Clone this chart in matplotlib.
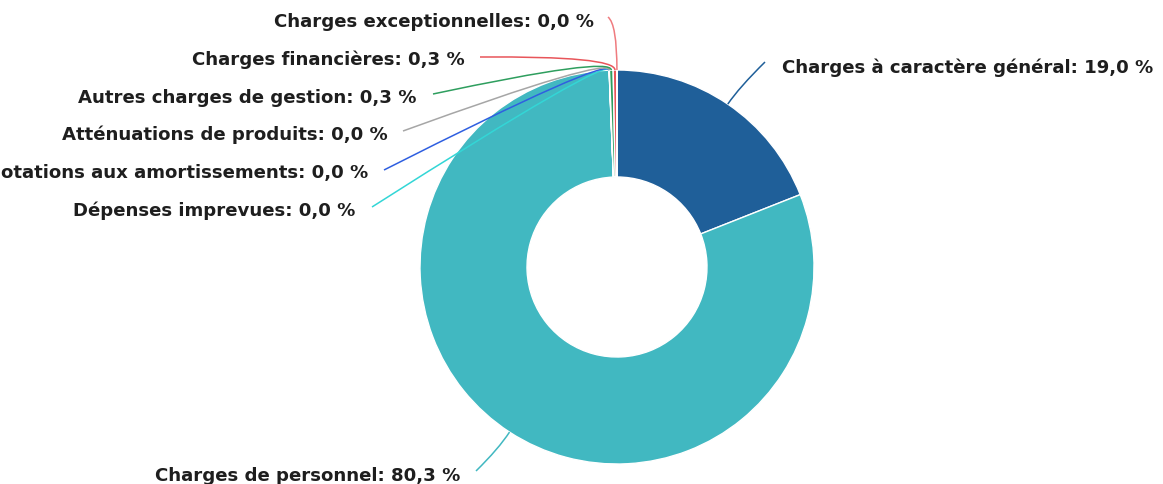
import matplotlib
matplotlib.use("Agg")
import matplotlib.pyplot as plt
from matplotlib.path import Path
from matplotlib.patches import PathPatch, Wedge
import numpy as np

categories = ["Charges à caractère général", "Charges de personnel", "Dépenses imprevues",
              "Dotations aux amortissements", "Atténuations de produits",
              "Autres charges de gestion", "Charges financières", "Charges exceptionnelles"]
values = [19.0, 80.3, 0.01, 0.01, 0.01, 0.3, 0.3, 0.01]
labels_pct = ["19,0", "80,3", "0,0", "0,0", "0,0", "0,3", "0,3", "0,0"]
colors = ["#1f5f99", "#41b8c1", "#33d6d6", "#2f5fe0", "#a6a6a6", "#2e9e5e", "#e8555a", "#ef7b7f"]

W, H = 1163, 485
fig = plt.figure(figsize=(W / 100, H / 100), dpi=100)
ax = fig.add_axes([0, 0, 1, 1])
ax.set_xlim(0, W)
ax.set_ylim(H, 0)
ax.axis("off")

cx, cy, R = 617, 268, 197
rin = 90

total = sum(values)
start = 0.0
mids = []
for v, c in zip(values, colors):
    frac = v / total
    a0 = start * 360
    a1 = (start + frac) * 360
    w = Wedge((cx, cy), R, -90 + a0, -90 + a1, width=R - rin, facecolor=c,
              edgecolor="white", linewidth=1)
    ax.add_patch(w)
    mids.append((a0 + a1) / 2)
    start += frac

label_pos = [(782, 68, "left"), (460, 476, "right"), (355, 211, "right"), (368, 173, "right"),
             (388, 135, "right"), (417, 98, "right"), (465, 60, "right"), (594, 22, "right")]
line_end = [(765, 63), (476, 472), (372, 208), (384, 171), (403, 132), (433, 95), (480, 58), (608, 18)]
elbows = [20, 20, 14, 14, 14, 14, 14, 46]

for i, (cat, pct) in enumerate(zip(categories, labels_pct)):
    ang = np.deg2rad(mids[i])
    dx, dy = np.sin(ang), -np.cos(ang)
    p0 = (cx + R * dx, cy + R * dy)
    el = elbows[i]
    p1 = (cx + (R + el) * dx, cy + (R + el) * dy)
    p2 = line_end[i]
    path = Path([p0, p1, p2], [Path.MOVETO, Path.CURVE3, Path.CURVE3])
    ax.add_patch(PathPatch(path, facecolor="none", edgecolor=colors[i], linewidth=1.1))
    x, y, ha = label_pos[i]
    ax.text(x, y, f"{cat}: {pct} %", ha=ha, va="center", fontsize=13.1,
            fontweight="bold", color="#1e1e1e", family="DejaVu Sans")

fig.savefig("out.png", dpi=100, facecolor="white")
